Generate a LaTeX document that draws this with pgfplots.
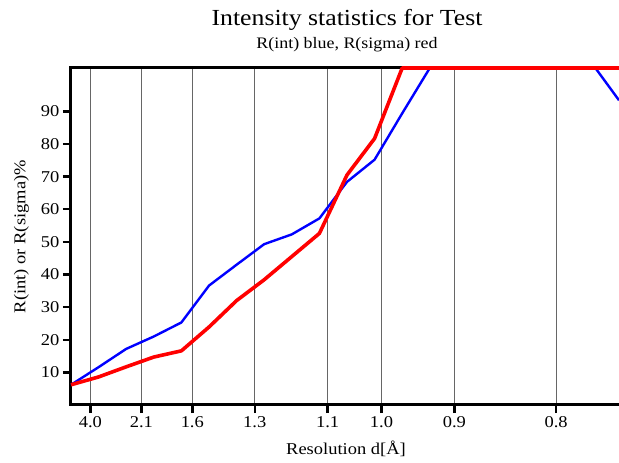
\documentclass[border=0pt]{standalone}
\usepackage{fontspec}
\setmainfont{Liberation Serif}[FakeStretch=1.12]
\usepackage{pgfplots}
\pgfplotsset{compat=1.18}
\begin{document}
\begin{tikzpicture}[x=1pt,y=1pt]
\begin{axis}[
  scale only axis, width=548pt, height=337pt,
  xmin=0, xmax=19.855, ymin=0, ymax=103.3,
  axis x line*=box, axis y line*=left,
  axis line style={line width=3pt, line cap=rect},
  x axis line style={line width=3pt},
  y axis line style={line width=3pt},
  xtick pos=bottom, ytick pos=left,
  tick align=outside, major tick length=8pt,
  major tick style={black, line width=2.4pt},
  xtick={0.703,2.551,4.395,6.657,9.298,11.25,13.889,17.578},
  xticklabels={4.0,2.1,1.6,1.3,1.1,1.0,0.9,0.8},
  ytick={10,20,30,40,50,60,70,80,90},
  xmajorgrids, grid style={black!60, line width=0.8pt},
  /pgf/number format/assume math mode=true,
  ticklabel style={font=\fontsize{16.5}{18}\selectfont},
  clip=false,
]
\addplot[blue, line width=2.4pt, line join=round] coordinates {
(0,6.2) (1,11.6) (2,17.2) (3,21.0) (4,25.3) (5,36.6) (6,43.0) (7,49.3)
(8,52.3) (9,57.2) (10,68.4) (11,75.2) (12,89.4) (13,103.3) (14,103.3)
(15,103.3) (16,103.3) (17,103.3) (18,103.3) (19,103.3) (19.855,93.4)
};
\addplot[red, line width=3.6pt, line join=round] coordinates {
(0,6.2) (1,8.6) (2,11.7) (3,14.7) (4,16.6) (5,23.9) (6,32.0) (7,38.4)
(8,45.5) (9,52.6) (10,70.5) (11,81.7) (12,103.3) (13,103.3) (14,103.3)
(15,103.3) (16,103.3) (17,103.3) (18,103.3) (19,103.3) (19.855,103.3)
};
\end{axis}
\node[anchor=base, font=\fontsize{23}{26}\selectfont] at (276,379) {Intensity statistics for Test};
\node[anchor=base, font=\fontsize{16}{18}\selectfont] at (276,356.7) {R(int) blue, R(sigma) red};
\node[anchor=base, font=\fontsize{16.5}{18}\selectfont] at (275,-50) {Resolution d[Å]};
\node[rotate=90, font=\fontsize{16.5}{18}\selectfont] at (-49.5,168.3) {R(int) or R(sigma)\%};
\pgfresetboundingbox
\path (-71,-58) rectangle (548,405);
\end{tikzpicture}
\end{document}
